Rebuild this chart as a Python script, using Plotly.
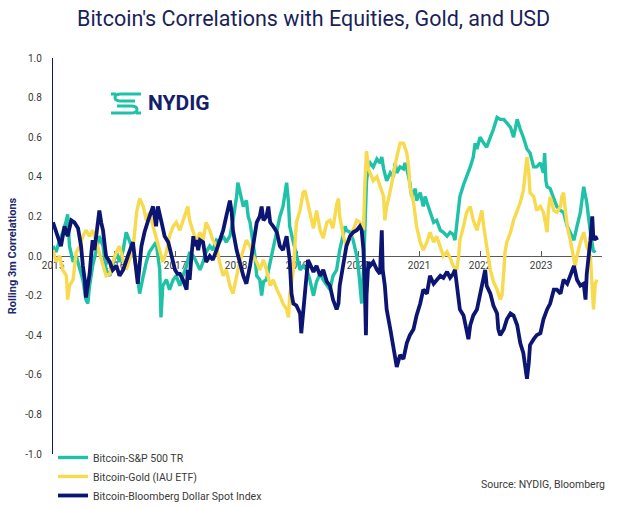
import plotly.graph_objects as go

# ---------------- data (decimal year, rolling 3m correlation) ----------------
years = [2015, 2016, 2017, 2018, 2019, 2020, 2021, 2022, 2023]
year_labels = ["2015", "2016", "2017", "2018", "2019", "2020", "2021", "2022", "2023"]
y_ticks = [1.0, 0.8, 0.6, 0.4, 0.2, 0.0, -0.2, -0.4, -0.6, -0.8, -1.0]
y_tick_labels = ["1.0", "0.8", "0.6", "0.4", "0.2", "0.0", "-0.2", "-0.4", "-0.6", "-0.8", "-1.0"]

sp500_points = [
    (2015.00, 0.05), (2015.05, 0.02), (2015.11, 0.08), (2015.16, 0.12), (2015.22, 0.18), (2015.24, 0.21),
    (2015.27, 0.05), (2015.33, -0.03), (2015.38, 0.00), (2015.44, -0.07), (2015.49, -0.12), (2015.54, -0.22),
    (2015.57, -0.24), (2015.60, -0.15), (2015.65, -0.05), (2015.71, 0.03), (2015.76, 0.10), (2015.82, 0.05),
    (2015.87, -0.07), (2015.93, -0.10), (2015.98, -0.05), (2016.04, 0.02), (2016.09, -0.03), (2016.15, 0.03),
    (2016.20, 0.12), (2016.25, 0.08), (2016.31, 0.03), (2016.37, -0.07), (2016.42, -0.19), (2016.48, -0.10),
    (2016.53, -0.03), (2016.58, 0.02), (2016.64, 0.05), (2016.69, 0.07), (2016.75, -0.07), (2016.77, -0.31),
    (2016.80, -0.15), (2016.86, -0.12), (2016.91, -0.17), (2016.97, -0.12), (2017.02, -0.10), (2017.08, -0.15),
    (2017.13, -0.10), (2017.19, -0.05), (2017.24, 0.02), (2017.30, 0.00), (2017.35, -0.03), (2017.41, -0.07),
    (2017.46, -0.03), (2017.51, 0.02), (2017.57, 0.05), (2017.62, 0.03), (2017.68, 0.08), (2017.73, 0.07),
    (2017.79, 0.10), (2017.84, 0.07), (2017.90, 0.10), (2017.95, 0.18), (2018.01, 0.30), (2018.03, 0.37),
    (2018.06, 0.33), (2018.12, 0.25), (2018.17, 0.28), (2018.20, 0.20), (2018.23, 0.17), (2018.28, 0.07),
    (2018.31, 0.00), (2018.34, -0.10), (2018.39, -0.12), (2018.42, -0.20), (2018.45, -0.13), (2018.50, -0.12),
    (2018.56, -0.03), (2018.61, 0.05), (2018.67, 0.13), (2018.72, 0.20), (2018.77, 0.25), (2018.80, 0.32),
    (2018.83, 0.37), (2018.86, 0.27), (2018.88, 0.15), (2018.94, 0.07), (2018.99, 0.00), (2019.05, -0.07),
    (2019.10, -0.05), (2019.16, -0.07), (2019.21, -0.12), (2019.27, -0.20), (2019.32, -0.13), (2019.38, -0.09),
    (2019.43, -0.12), (2019.49, -0.15), (2019.54, -0.17), (2019.59, -0.10), (2019.65, -0.07), (2019.70, 0.03),
    (2019.76, 0.10), (2019.79, 0.15), (2019.81, 0.13), (2019.87, 0.12), (2019.92, 0.08), (2019.98, 0.00),
    (2020.01, -0.07), (2020.03, -0.13), (2020.06, -0.24), (2020.09, -0.07), (2020.115, 0.13), (2020.14, 0.38),
    (2020.17, 0.45), (2020.20, 0.47), (2020.25, 0.45), (2020.31, 0.49), (2020.36, 0.47), (2020.39, 0.50),
    (2020.42, 0.44), (2020.47, 0.38), (2020.53, 0.42), (2020.58, 0.40), (2020.61, 0.47), (2020.635, 0.42),
    (2020.69, 0.45), (2020.745, 0.44), (2020.77, 0.47), (2020.80, 0.44), (2020.85, 0.37), (2020.88, 0.30),
    (2020.91, 0.32), (2020.94, 0.34), (2020.96, 0.28), (2021.02, 0.32), (2021.07, 0.25), (2021.10, 0.30),
    (2021.13, 0.27), (2021.18, 0.22), (2021.24, 0.17), (2021.29, 0.18), (2021.35, 0.13), (2021.40, 0.12),
    (2021.46, 0.10), (2021.51, 0.12), (2021.56, 0.11), (2021.59, 0.08), (2021.62, 0.17), (2021.65, 0.23),
    (2021.67, 0.30), (2021.73, 0.36), (2021.78, 0.40), (2021.84, 0.45), (2021.89, 0.50), (2021.92, 0.57),
    (2021.95, 0.54), (2022.00, 0.60), (2022.06, 0.57), (2022.11, 0.55), (2022.17, 0.60), (2022.22, 0.64),
    (2022.28, 0.70), (2022.33, 0.69), (2022.39, 0.69), (2022.44, 0.67), (2022.50, 0.65), (2022.55, 0.60),
    (2022.61, 0.69), (2022.66, 0.64), (2022.71, 0.60), (2022.77, 0.54), (2022.82, 0.52), (2022.88, 0.45),
    (2022.93, 0.45), (2022.99, 0.47), (2023.04, 0.42), (2023.06, 0.52), (2023.08, 0.38), (2023.10, 0.35),
    (2023.15, 0.34), (2023.21, 0.29), (2023.26, 0.25), (2023.32, 0.23), (2023.37, 0.22), (2023.43, 0.15),
    (2023.48, 0.12), (2023.54, 0.08), (2023.59, 0.15), (2023.645, 0.22), (2023.70, 0.35), (2023.75, 0.27),
    (2023.81, 0.12), (2023.86, 0.02), (2023.89, 0.03),
]

gold_points = [
    (2015.00, 0.03), (2015.05, -0.03), (2015.11, 0.00), (2015.16, -0.07), (2015.22, -0.10), (2015.24, -0.22),
    (2015.27, -0.15), (2015.33, -0.12), (2015.38, 0.02), (2015.44, 0.05), (2015.49, 0.10), (2015.54, 0.13),
    (2015.60, 0.10), (2015.65, 0.13), (2015.71, 0.07), (2015.76, 0.02), (2015.82, -0.05), (2015.87, -0.10),
    (2015.93, -0.09), (2015.98, -0.03), (2016.04, 0.02), (2016.09, 0.05), (2016.15, -0.02), (2016.20, -0.07),
    (2016.25, -0.02), (2016.31, 0.03), (2016.37, 0.22), (2016.42, 0.29), (2016.48, 0.25), (2016.53, 0.18),
    (2016.58, 0.22), (2016.64, 0.15), (2016.69, 0.10), (2016.75, 0.03), (2016.80, -0.03), (2016.86, 0.02),
    (2016.91, 0.10), (2016.97, 0.15), (2017.02, 0.17), (2017.08, 0.13), (2017.13, 0.18), (2017.19, 0.23),
    (2017.21, 0.25), (2017.24, 0.18), (2017.30, 0.12), (2017.35, 0.07), (2017.41, 0.12), (2017.46, 0.08),
    (2017.51, 0.17), (2017.57, 0.13), (2017.62, 0.08), (2017.68, 0.05), (2017.73, -0.03), (2017.79, -0.10),
    (2017.84, -0.07), (2017.90, -0.15), (2017.95, -0.19), (2018.01, -0.10), (2018.06, -0.03), (2018.12, 0.03),
    (2018.17, 0.08), (2018.23, 0.05), (2018.28, 0.00), (2018.34, -0.03), (2018.39, -0.07), (2018.45, -0.02),
    (2018.50, -0.07), (2018.56, -0.15), (2018.61, -0.12), (2018.67, -0.17), (2018.72, -0.20), (2018.77, -0.24),
    (2018.83, -0.27), (2018.86, -0.31), (2018.88, -0.20), (2018.94, -0.07), (2018.97, 0.10), (2018.99, 0.17),
    (2019.05, 0.23), (2019.10, 0.32), (2019.13, 0.33), (2019.16, 0.28), (2019.21, 0.22), (2019.27, 0.14),
    (2019.32, 0.23), (2019.38, 0.13), (2019.43, 0.09), (2019.49, 0.17), (2019.54, 0.18), (2019.59, 0.14),
    (2019.65, 0.26), (2019.68, 0.29), (2019.70, 0.20), (2019.76, 0.10), (2019.81, 0.05), (2019.87, 0.09),
    (2019.92, 0.13), (2019.98, 0.18), (2020.03, 0.17), (2020.09, 0.13), (2020.115, 0.38), (2020.14, 0.53),
    (2020.17, 0.44), (2020.20, 0.42), (2020.25, 0.38), (2020.31, 0.40), (2020.36, 0.35), (2020.42, 0.30),
    (2020.44, 0.18), (2020.47, 0.25), (2020.53, 0.33), (2020.58, 0.42), (2020.635, 0.50), (2020.69, 0.57),
    (2020.745, 0.57), (2020.80, 0.52), (2020.83, 0.45), (2020.85, 0.35), (2020.91, 0.27), (2020.96, 0.15),
    (2021.02, 0.07), (2021.07, 0.03), (2021.13, 0.07), (2021.18, 0.12), (2021.24, 0.07), (2021.29, 0.10),
    (2021.35, 0.05), (2021.40, 0.00), (2021.46, 0.02), (2021.51, -0.01), (2021.56, -0.05), (2021.62, -0.07),
    (2021.65, 0.00), (2021.67, 0.08), (2021.73, 0.15), (2021.78, 0.22), (2021.84, 0.25), (2021.89, 0.18),
    (2021.95, 0.13), (2022.00, 0.20), (2022.03, 0.23), (2022.06, 0.15), (2022.11, 0.05), (2022.17, -0.07),
    (2022.22, -0.13), (2022.28, -0.17), (2022.33, -0.22), (2022.36, -0.20), (2022.39, -0.08), (2022.41, 0.02),
    (2022.44, 0.07), (2022.50, 0.12), (2022.55, 0.18), (2022.61, 0.23), (2022.66, 0.27), (2022.71, 0.33),
    (2022.74, 0.40), (2022.77, 0.50), (2022.80, 0.42), (2022.82, 0.32), (2022.88, 0.30), (2022.93, 0.23),
    (2022.99, 0.25), (2023.04, 0.22), (2023.10, 0.12), (2023.12, 0.23), (2023.15, 0.30), (2023.21, 0.23),
    (2023.26, 0.22), (2023.32, 0.25), (2023.34, 0.30), (2023.37, 0.32), (2023.40, 0.23), (2023.43, 0.15),
    (2023.48, 0.08), (2023.54, -0.02), (2023.56, -0.05), (2023.59, 0.00), (2023.645, 0.07), (2023.70, 0.12),
    (2023.75, 0.05), (2023.81, 0.00), (2023.84, -0.15), (2023.86, -0.27), (2023.89, -0.14), (2023.92, -0.12),
]

usd_points = [
    (2015.00, 0.17), (2015.05, 0.12), (2015.13, 0.05), (2015.19, 0.15), (2015.24, 0.10), (2015.30, 0.18),
    (2015.35, 0.17), (2015.41, 0.14), (2015.46, 0.05), (2015.49, -0.05), (2015.52, -0.12), (2015.54, -0.21),
    (2015.57, -0.15), (2015.60, -0.09), (2015.63, 0.02), (2015.65, 0.08), (2015.68, 0.03), (2015.71, 0.10),
    (2015.74, 0.18), (2015.76, 0.23), (2015.79, 0.17), (2015.82, 0.13), (2015.85, 0.05), (2015.87, 0.00),
    (2015.93, -0.03), (2015.98, -0.07), (2016.04, -0.05), (2016.09, -0.10), (2016.15, -0.07), (2016.20, -0.02),
    (2016.25, 0.02), (2016.31, 0.07), (2016.34, 0.00), (2016.39, -0.14), (2016.45, 0.05), (2016.50, 0.12),
    (2016.56, 0.18), (2016.64, 0.25), (2016.69, 0.15), (2016.72, 0.25), (2016.78, 0.17), (2016.83, 0.10),
    (2016.89, 0.07), (2016.94, 0.00), (2017.00, -0.07), (2017.04, -0.09), (2017.08, -0.09), (2017.13, -0.12),
    (2017.19, -0.17), (2017.21, -0.07), (2017.24, -0.12), (2017.27, 0.00), (2017.30, 0.10), (2017.32, 0.05),
    (2017.35, 0.08), (2017.38, 0.03), (2017.41, 0.08), (2017.46, 0.07), (2017.49, 0.02), (2017.51, -0.03),
    (2017.57, 0.00), (2017.62, -0.02), (2017.68, 0.03), (2017.73, 0.07), (2017.79, 0.13), (2017.84, 0.20),
    (2017.90, 0.28), (2017.93, 0.22), (2017.95, 0.13), (2018.01, 0.03), (2018.06, -0.03), (2018.12, -0.10),
    (2018.17, -0.14), (2018.23, -0.05), (2018.28, 0.05), (2018.34, 0.17), (2018.39, 0.20), (2018.42, 0.25),
    (2018.45, 0.18), (2018.50, 0.20), (2018.53, 0.25), (2018.56, 0.17), (2018.61, 0.15), (2018.67, 0.12),
    (2018.72, 0.05), (2018.77, 0.03), (2018.83, 0.10), (2018.88, -0.02), (2018.91, -0.19), (2018.94, -0.24),
    (2018.99, -0.25), (2019.05, -0.29), (2019.07, -0.39), (2019.10, -0.29), (2019.13, -0.20), (2019.16, -0.07),
    (2019.18, -0.02), (2019.21, -0.04), (2019.27, -0.08), (2019.32, -0.05), (2019.38, -0.10), (2019.43, -0.07),
    (2019.49, -0.13), (2019.54, -0.15), (2019.59, -0.22), (2019.65, -0.27), (2019.68, -0.24), (2019.70, -0.15),
    (2019.76, -0.05), (2019.81, 0.05), (2019.87, 0.10), (2019.92, 0.12), (2019.98, 0.13), (2020.03, 0.15),
    (2020.06, 0.13), (2020.09, 0.03), (2020.115, -0.20), (2020.13, -0.40), (2020.14, -0.20), (2020.17, -0.03),
    (2020.20, -0.05), (2020.25, -0.03), (2020.31, -0.07), (2020.36, -0.09), (2020.39, 0.13), (2020.405, -0.07),
    (2020.44, -0.15), (2020.47, -0.27), (2020.53, -0.37), (2020.58, -0.47), (2020.61, -0.54), (2020.635, -0.56),
    (2020.69, -0.50), (2020.745, -0.52), (2020.80, -0.44), (2020.85, -0.40), (2020.91, -0.37), (2020.96, -0.30),
    (2021.02, -0.24), (2021.07, -0.17), (2021.13, -0.19), (2021.18, -0.10), (2021.24, -0.14), (2021.29, -0.12),
    (2021.35, -0.10), (2021.40, -0.11), (2021.46, -0.08), (2021.51, -0.11), (2021.56, -0.09), (2021.59, -0.07),
    (2021.62, -0.15), (2021.65, -0.22), (2021.67, -0.27), (2021.73, -0.30), (2021.78, -0.39), (2021.81, -0.42),
    (2021.84, -0.35), (2021.89, -0.30), (2021.95, -0.27), (2022.00, -0.19), (2022.06, -0.09), (2022.085, -0.07),
    (2022.11, -0.15), (2022.17, -0.19), (2022.22, -0.25), (2022.28, -0.29), (2022.30, -0.37), (2022.33, -0.40),
    (2022.39, -0.37), (2022.44, -0.32), (2022.50, -0.29), (2022.55, -0.30), (2022.61, -0.35), (2022.66, -0.44),
    (2022.71, -0.49), (2022.74, -0.55), (2022.77, -0.62), (2022.80, -0.54), (2022.82, -0.45), (2022.88, -0.42),
    (2022.93, -0.40), (2022.99, -0.39), (2023.04, -0.32), (2023.10, -0.27), (2023.15, -0.24), (2023.21, -0.17),
    (2023.26, -0.17), (2023.32, -0.19), (2023.37, -0.12), (2023.43, -0.14), (2023.48, -0.10), (2023.54, -0.05),
    (2023.59, -0.12), (2023.645, -0.15), (2023.70, -0.14), (2023.73, -0.22), (2023.75, -0.09), (2023.78, -0.02),
    (2023.81, 0.08), (2023.84, 0.20), (2023.86, 0.08), (2023.89, 0.10), (2023.92, 0.08),
]

series_names = ["Bitcoin-S&P 500 TR", "Bitcoin-Gold (IAU ETF)", "Bitcoin-Bloomberg Dollar Spot Index"]

# ---------------- styling ----------------
TEAL = "#1fc2a7"
YELLOW = "#f8da4e"
NAVY = "#0c1672"
TITLE_NAVY = "#1b1f5a"
TEXT = "#3a3a3a"
FONT = "Roboto"

W, H = 640, 508
ML, MR, MT, MB = 53, 38, 58, 54
PW, PH = W - ML - MR, H - MT - MB


def px(x, y):
    """pixel position on the canvas -> paper coordinates (for decorations)"""
    return (x - ML) / PW, (H - MB - y) / PH


fig = go.Figure()
for pts, name, color, width in [
    (sp500_points, series_names[0], TEAL, 3.4),
    (gold_points, series_names[1], YELLOW, 3.4),
    (usd_points, series_names[2], NAVY, 3.8),
]:
    xs = [p[0] for p in pts]
    ys = [p[1] for p in pts]
    fig.add_trace(go.Scatter(x=xs, y=ys, mode="lines", name=name,
                             line=dict(color=color, width=width)))

fig.update_layout(
    width=W, height=H,
    margin=dict(l=ML, r=MR, t=MT, b=MB, autoexpand=False),
    paper_bgcolor="white", plot_bgcolor="white",
    font=dict(family=FONT, size=10, color=TEXT),
    title=dict(text="Bitcoin's Correlations with Equities, Gold, and USD",
               x=0.49, xanchor="center", y=1 - 18 / H, yanchor="middle",
               font=dict(family=FONT, size=21.5, color=TITLE_NAVY)),
    xaxis=dict(range=[2015, 2024.0], tickvals=years, ticktext=year_labels,
               showline=True, linecolor="#5a5a5a", linewidth=1,
               anchor="free", position=0.5, ticks="inside", ticklen=5,
               tickcolor="#5a5a5a", showgrid=False, zeroline=False,
               tickfont=dict(size=10, color=TEXT), layer="below traces"),
    yaxis=dict(range=[-1, 1], tickvals=y_ticks, ticktext=y_tick_labels,
               showline=True, linecolor=NAVY, linewidth=1.2, ticks="",
               ticklabelstandoff=8, showgrid=False, zeroline=False,
               tickfont=dict(size=10, color=TEXT), layer="below traces",
               title=dict(text="<b>Rolling 3m Correlations</b>", standoff=6,
                          font=dict(size=11, color="#1f2a6e"))),
    showlegend=True,
    legend=dict(x=px(53, 0)[0], y=px(0, 443)[1], xanchor="left", yanchor="top",
                bgcolor="rgba(0,0,0,0)", borderwidth=0, tracegroupgap=0,
                itemwidth=30, font=dict(size=10.5, color=TEXT, family=FONT)),
)

# source note
sx, sy = px(607, 484)
fig.add_annotation(text="Source: NYDIG, Bloomberg", xref="paper", yref="paper",
                   x=sx, y=sy, xanchor="right", yanchor="middle", showarrow=False,
                   font=dict(size=10.5, color=TEXT, family=FONT))

# NYDIG logo: wordmark + teal icon
lx, ly = px(146, 103)
fig.add_annotation(text="<b>NYDIG</b>", xref="paper", yref="paper", x=lx, y=ly,
                   xanchor="left", yanchor="middle", showarrow=False,
                   font=dict(size=21, color="#15206a", family=FONT))


def path_paper(cmds):
    out = []
    for c in cmds:
        if isinstance(c, str):
            out.append(c)
        else:
            a, b = px(*c)
            out.append(f"{a:.5f},{b:.5f}")
    return " ".join(out)


icon_paths = [
    ["M", (141, 94), "L", (121, 94), "C", (113, 94), (113, 101), (121, 101), "L", (135, 101)],
    ["M", (117, 106), "L", (131, 106), "C", (139, 106), (139, 113), (131, 113), "L", (111, 113)],
    ["M", (111, 94), "L", (116, 94)],
    ["M", (136, 113), "L", (141, 113)],
]
for p in icon_paths:
    fig.add_shape(type="path", xref="paper", yref="paper", path=path_paper(p),
                  line=dict(color=TEAL, width=3))

fig.write_html("out.html", config={"displayModeBar": False},
               post_script="document.body.style.margin='0';")
